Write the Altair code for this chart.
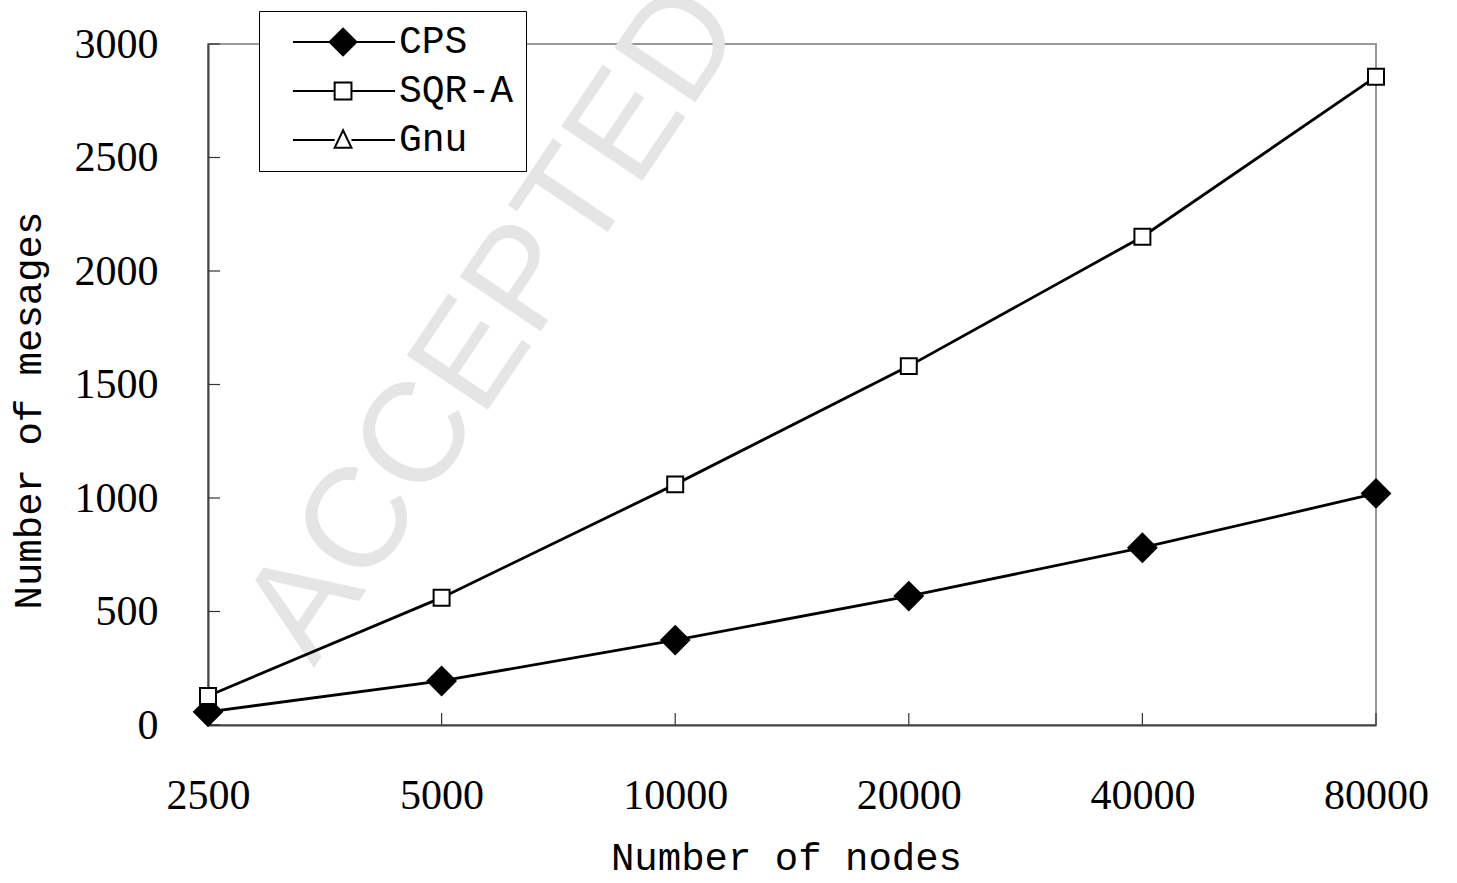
import altair as alt
import pandas as pd

# ---- data ----
nodes = ["2500", "5000", "10000", "20000", "40000", "80000"]
cps = [58, 194, 374, 568, 781, 1020]
sqra = [128, 561, 1060, 1581, 2151, 2856]
series = ["CPS", "SQR-A", "Gnu"]
y_ticks = [0, 500, 1000, 1500, 2000, 2500, 3000]
watermark = ["ACCEPTED MANUSCRIPT"]

rows = []
for n, v in zip(nodes, cps):
    rows.append({"nodes": n, "msgs": v, "series": "CPS"})
for n, v in zip(nodes, sqra):
    rows.append({"nodes": n, "msgs": v, "series": "SQR-A"})
df = pd.DataFrame(rows)

xtick_df = pd.DataFrame({"nodes": nodes})
ytick_df = pd.DataFrame({"msgs": y_ticks})
wm_df = pd.DataFrame({"t": watermark})

# marker shapes (unit = sqrt(size)/2 px)
marker_paths = [
    "M-1,0L0,-1L1,0L0,1Z",
    "M-0.57,-0.57H0.57V0.57H-0.57Z",
    "M0,-0.62L0.64,0.5L-0.64,0.5Z",
]
# legend symbols: line with marker in the middle
legend_paths = [
    "M0.21,0H2.83M2.83,0L3.79,-0.96L4.75,0L3.79,0.96ZM4.75,0H7.5",
    "M0.21,0H3.19M3.19,-0.6H4.39V0.6H3.19ZM4.39,0H7.5",
    "M0.21,0H3.19M3.79,-0.7L4.39,0.55L3.19,0.55ZM4.39,0H7.5",
]
fills = ["black", "white", "white"]

x_scale = alt.Scale(type="point", padding=0, domain=nodes)
y_scale = alt.Scale(domain=[0, 3000], nice=False, zero=True)

legend = alt.Legend(
    title=None,
    orient="none",
    legendX=51,
    legendY=-33,
    padding=12,
    rowPadding=11,
    symbolSize=784,
    symbolStrokeWidth=2,
    labelOffset=90,
    labelFont="Liberation Mono",
    labelFontSize=38,
    labelColor="black",
    strokeColor="black",
    fillColor="white",
)

base = alt.Chart(df)

wm = alt.Chart(wm_df).mark_text(
    angle=304, align="left", baseline="middle", font="Liberation Sans",
    fontSize=142, color="#e5e5e5",
).encode(text="t:N", x=alt.value(70), y=alt.value(600))

lines = base.mark_line(color="black", strokeWidth=2.8).encode(
    x=alt.X("nodes:O", scale=x_scale, sort=nodes, title="Number of nodes"),
    y=alt.Y("msgs:Q", scale=y_scale, title="Number of mesages",
            axis=alt.Axis(values=y_ticks, format="d")),
    detail="series:N",
)

points = base.mark_point(filled=False, size=784, strokeWidth=2, opacity=1).encode(
    x=alt.X("nodes:O", scale=x_scale, sort=nodes),
    y=alt.Y("msgs:Q", scale=y_scale),
    shape=alt.Shape("series:N", scale=alt.Scale(domain=series, range=marker_paths), legend=None),
    fill=alt.Fill("series:N", scale=alt.Scale(domain=series, range=fills), legend=None),
    stroke=alt.value("black"),
)

# legend-only layer (no marks drawn, its scales carry the legend)
legend_layer = base.transform_filter("false").mark_point(
    filled=False, size=784, strokeWidth=2, opacity=1
).encode(
    x=alt.X("nodes:O", scale=x_scale, sort=nodes),
    y=alt.Y("msgs:Q", scale=y_scale),
    shape=alt.Shape("series:N", scale=alt.Scale(domain=series, range=legend_paths), legend=legend),
    fill=alt.Fill("series:N", scale=alt.Scale(domain=series, range=fills), legend=legend),
    stroke=alt.value("black"),
)

xticks = alt.Chart(xtick_df).mark_rule(color="#333333", strokeWidth=1.2, y2Offset=-12).encode(
    x=alt.X("nodes:O", scale=x_scale, sort=nodes),
    y=alt.Y(datum=0, type="quantitative"),
    y2=alt.Y2(datum=0),
)

yticks = alt.Chart(ytick_df).mark_rule(color="#333333", strokeWidth=1.2, x2Offset=12).encode(
    x=alt.X(datum="2500", type="ordinal"),
    x2=alt.X2(datum="2500"),
    y=alt.Y("msgs:Q", scale=y_scale),
)

chart = (
    alt.layer(wm, lines, xticks, yticks, points, legend_layer)
    .resolve_scale(shape="independent", fill="independent")
    .properties(
        width=1168,
        height=681,
        autosize=alt.AutoSizeParams(type="none"),
        padding={"left": 208, "top": 44, "right": 81, "bottom": 158},
        background="white",
    )
    .configure_view(stroke="#999999", strokeWidth=2)
    .configure_axis(
        domainColor="#444444",
        domainWidth=2,
        ticks=False,
        grid=False,
        labelFont="Liberation Serif",
        labelFontSize=42,
        labelColor="black",
        labelPadding=50,
        titleFont="Liberation Mono",
        titleFontSize=39,
        titleFontWeight="normal",
        titleColor="black",
    )
    .configure_axisX(labelAngle=0, titlePadding=22, titleX=578)
    .configure_axisY(titlePadding=26, titleY=366)
)

chart.save("out.html", embed_options={"renderer": "svg", "actions": False})
